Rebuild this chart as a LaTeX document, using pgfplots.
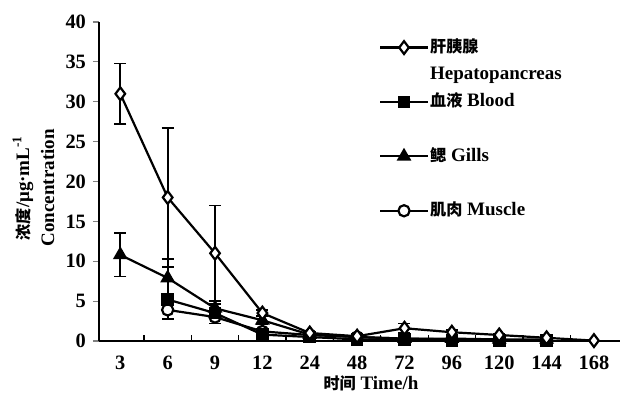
\documentclass[border=0pt]{standalone}
\usepackage{pgfplots}
\pgfplotsset{compat=1.18}
\usepackage{fontspec}
\setmainfont{Liberation Serif}
\newfontfamily\cjk[Scale=0.85]{Noto Sans CJK SC Bold}
\begin{document}
\begin{tikzpicture}
\useasboundingbox (-49.5pt,-28.5pt) rectangle (262pt,170.5pt);
\begin{axis}[
  scale only axis, width=260.5pt, height=159.5pt,
  at={(0,0)}, anchor=south west,
  axis lines=left, axis line style={-, line width=1pt},
  xmin=-0.45, xmax=10.55, ymin=0, ymax=40,
  xtick={0,...,10}, xticklabels={3,6,9,12,24,48,72,96,120,144,168},
  major x tick style={draw=none},
  extra x ticks={0.5,1.5,...,9.5}, extra x tick labels={},
  extra x tick style={tick align=inside, major tick length=3pt, major x tick style={draw=black, line width=0.6pt}},
  ytick={0,5,...,40}, tick align=outside, major tick length=3pt,
  y tick style={line width=0.6pt},
  /pgf/number format/assume math mode=true,
  tick label style={font=\fontsize{10.2}{11}\selectfont\bfseries},
  xticklabel style={yshift=-1pt},
  every axis y label/.style={at={(axis description cs:-0.1257,0.48)}, rotate=90, anchor=center, align=center, font=\fontsize{9.5}{12.5}\selectfont\bfseries},
  every axis x label/.style={at={(axis description cs:0.522,-0.1317)}, anchor=center, font=\fontsize{9.5}{11}\selectfont\bfseries},
  ylabel={{\cjk 浓度}/μg·mL\textsuperscript{-1}\\Concentration},
  xlabel={{\cjk 时间} Time/h},
  legend style={at={(axis description cs:0.525,0.965)}, anchor=north west, draw=none, fill=none,
    font=\fontsize{9.5}{11}\selectfont\bfseries, row sep=3.6pt,
    nodes={inner sep=0.5pt, text height=7pt, text depth=2pt},
    /tikz/every even column/.append style={column sep=4pt}},
  legend cell align=left,
  legend image code/.code={\draw[#1, mark repeat=2, mark phase=2] plot coordinates {(0pt,0pt)(12pt,0pt)(24pt,0pt)};},
  every axis plot/.append style={line width=1.1pt, black},
  error bars/error bar style={line width=0.9pt},
  error bars/error mark options={rotate=90, mark size=3pt, line width=0.9pt},
]
% Muscle
\addplot[forget plot, mark=*, mark size=2.8pt, mark options={fill=white, line width=1.1pt},
  error bars/.cd, y dir=both, y explicit]
  coordinates {(1,3.9)+-(0,1.1) (2,3.0)+-(0,0.8) (3,1.2)+-(0,0.3) (4,0.75)+-(0,0.2) (5,0.5)+-(0,0.1) (6,0.3)+-(0,0.1) (7,0.2)+-(0,0.05) (8,0.1)+-(0,0.05) (9,0.1)+-(0,0.05)};
% Blood
\addplot[forget plot, mark=square*, mark size=2.6pt,
  error bars/.cd, y dir=both, y explicit]
  coordinates {(1,5.2)+-(0,0.5) (2,3.5)+-(0,0.4) (3,0.8)+-(0,0.3) (4,0.5)+-(0,0.1) (5,0.2)+-(0,0.05) (6,0.2)+-(0,0.05) (7,0.1)+-(0,0.05) (8,0.1)+-(0,0.05) (9,0.1)+-(0,0.05)};
% Gills
\addplot[forget plot, mark=triangle*, mark size=3.2pt,
  error bars/.cd, y dir=both, y explicit]
  coordinates {(0,10.8)+-(0,2.7) (1,7.9)+-(0,2.4) (2,4.1)+-(0,0.5) (3,2.6)+-(0,0.5) (4,0.8)+-(0,0.2) (5,0.5)+-(0,0.1) (6,0.3)+-(0,0.1) (7,0.3)+-(0,0.1) (8,0.2)+-(0,0.05) (9,0.2)+-(0,0.05)};
% Hepatopancreas
\addplot[forget plot, mark=diamond*, mark size=3.2pt, mark options={fill=white, line width=1.1pt},
  error bars/.cd, y dir=both, y explicit]
  coordinates {(0,31)+-(0,3.8) (1,18)+-(0,8.7) (2,11)+-(0,6) (3,3.5)+-(0,0.4) (4,1.0)+-(0,0.2) (5,0.6)+-(0,0.1) (6,1.6)+-(0,0.6) (7,1.1)+-(0,0.3) (8,0.75)+-(0,0.1) (9,0.4)+-(0,0.1) (10,0.05)+-(0,0)};
\addlegendimage{line width=1.1pt, mark=diamond*, mark size=3.2pt, mark options={fill=white}}
\addlegendentry{{\cjk 肝胰腺}}
\addlegendimage{empty legend}
\addlegendentry{Hepatopancreas}
\addlegendimage{line width=1.1pt, mark=square*, mark size=2.6pt}
\addlegendentry{{\cjk 血液} Blood}
\addlegendimage{empty legend}
\addlegendentry{\mbox{}}
\addlegendimage{line width=1.1pt, mark=triangle*, mark size=3.2pt}
\addlegendentry{{\cjk 鳃} Gills}
\addlegendimage{empty legend}
\addlegendentry{\mbox{}}
\addlegendimage{line width=1.1pt, mark=*, mark size=2.8pt, mark options={fill=white}}
\addlegendentry{{\cjk 肌肉} Muscle}
\end{axis}
\end{tikzpicture}
\end{document}
